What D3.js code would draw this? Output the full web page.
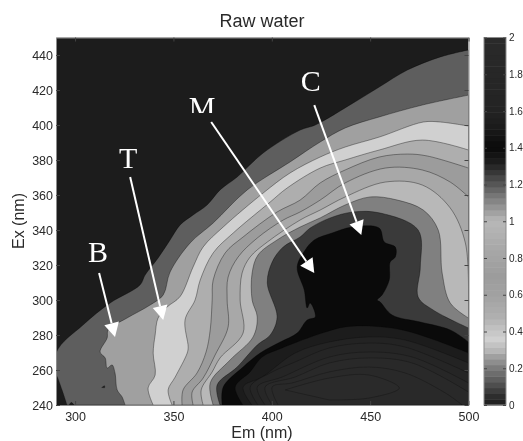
<!DOCTYPE html>
<html>
<head>
<meta charset="utf-8">
<script src="https://cdn.jsdelivr.net/npm/d3@7"></script>
<style>
  html, body { margin: 0; padding: 0; background: #fff; overflow: hidden; }
  svg { display: block; filter: blur(0.45px); }
  text { font-family: "Liberation Sans", Arial, sans-serif; fill: #2a2a2a; }
</style>
</head>
<body>
<div id="chart"></div>
<script>
// Contour outlines, as [Em, Ex] in nm
const contourA = [[290.3,240],[290.3,269.7],[304,285.7],[317.8,298.3],[333,308.6],[335.6,314.3],[342.2,324],[348.3,334.3],[353.4,342.9],[360,348.6],[367.1,354.3],[373.7,362.9],[382.4,370.3],[395.6,384],[414.4,397.1],[422.1,400],[441.4,412.6],[454.6,421.7],[468.9,431.4],[485.7,438.9],[500,442.9],[500,240]];
const contourB = [[325.4,240],[323.9,244.6],[321.4,248.6],[320.3,258.3],[318.8,262.9],[316.3,261.1],[315.3,266.9],[312.7,270.3],[316.3,278.3],[316.8,282.9],[326.4,289.7],[338.1,297.1],[344.8,302.9],[348.3,316],[358.5,332.6],[370.2,344],[387.5,362.9],[409.3,378.9],[424.6,390.3],[437.3,398.3],[454.6,404.6],[476.5,411.4],[500,417.1],[500,240]];
const contourC = [[339.7,240],[337.1,249.7],[340.7,257.1],[339.7,269.7],[340.7,280],[342.2,289.7],[346.8,296],[353.4,302],[360,318.9],[365.1,330.3],[375.3,341.7],[395.6,361.1],[409.3,372.6],[424.6,381.7],[437.3,387.4],[454.6,393.1],[477,401.7],[485.7,401.7],[500,399.4],[500,240]];
const contourD = [[349.3,240],[347.3,248.6],[350.9,256],[357,269.7],[357.5,273.1],[355.9,288.6],[361,300],[363.6,311.4],[370.2,326.9],[380.4,338.3],[399.2,356],[407.8,364],[424.6,375.4],[437.3,380],[454.6,385.7],[476.5,391.4],[500,385.7],[500,240]];
const contourE = [[354.4,240],[354.9,248.6],[362,258.3],[366.6,270.3],[368.7,282.9],[369.7,300],[370.2,311.4],[376.3,326.9],[385.4,336],[402.7,350.3],[414.4,357.1],[424.6,366.9],[437.3,374.3],[454.6,381.7],[468.9,383.4],[479,382.3],[500,375.4],[500,240]];
const contourF = [[360,240],[359.5,247.4],[365.1,255.4],[371.2,268.6],[377.8,284.6],[377.3,300],[377.8,313.1],[382.9,324.6],[392.6,335.4],[405.8,345.7],[414.4,350.3],[424.6,357.1],[437.3,366.9],[457.7,375.4],[476.5,374.3],[490.7,367.4],[500,358.9],[500,240]];
const contourG = [[365.1,240],[364.1,248.6],[369.7,258.9],[373.7,266.9],[385.4,281.1],[383.9,300],[384.9,315.4],[389,324.6],[397.7,333.1],[414.4,345.7],[424.6,351.4],[437.3,358.9],[457.7,367.4],[476.5,365.7],[490.7,352.6],[498.4,332.6],[500,305.7],[500,240]];
const contourH = [[370.2,240],[368.7,252.6],[378.8,265.7],[390.5,278.9],[392.6,290.3],[390,300],[390,315.4],[393,325.7],[402.7,334.3],[414.4,341.7],[424.6,346.9],[437.3,354.3],[450,358.9],[463.8,357.1],[477,351.4],[484.6,340],[486.6,315.4],[490.7,298.3],[500,289.7],[500,240]];
const contourI = [[373.7,240],[372.2,251.4],[382.4,261.7],[392.6,274.3],[399.2,280],[402.7,290.3],[397.7,309.7],[400.2,321.7],[405.8,330.3],[414.4,336],[419.5,341.1],[429.7,346.9],[441.4,350.3],[455.1,349.7],[474.4,340],[475.5,318.9],[474.4,301.7],[482,294.3],[500,284],[500,240]];
const contourJ = [[374.8,240],[375.3,250.3],[385.4,261.7],[394.1,269.7],[404.3,276],[412.9,281.1],[418,288.6],[422.1,290.3],[419.5,298.3],[418,295.4],[416.5,305.7],[412.9,318.9],[417,328.6],[421.6,334.3],[430.7,338.3],[440.9,341.7],[454.6,341.1],[457.2,333.1],[462.8,330.3],[462.8,324.6],[460.2,321.7],[459.7,311.4],[456.1,302.9],[453.6,300],[455.1,298.9],[461.2,291.4],[475.5,287.4],[490.7,282.9],[500,276],[500,240]];
const ring1 = [[385.4,240],[381.4,250.3],[389,258.9],[395.1,267.4],[405.3,272.6],[425.6,281.1],[437.3,284.6],[449.5,285.1],[466.3,282.9],[483,277.1],[500,269.7],[500,240]];
const ring2 = [[389.9,240],[385.4,250.3],[395.1,256],[411.9,269.7],[429.2,276],[449.5,278.9],[467.8,277.1],[500,264],[500,240]];
const ring3 = [[393,240],[389,250.3],[399.2,258.3],[411.9,264.6],[429.2,272.6],[449.5,275.4],[467.8,273.1],[500,258.3],[500,240]];
const ring4 = [[396.6,240],[392.6,250.3],[405.3,256],[429.2,267.4],[449.5,270.3],[471.4,267.4],[500,252.6],[500,240]];
const ring5 = [[400.2,240],[396.6,250.3],[411.9,256],[429.2,264],[449.5,266.9],[471.4,264],[500,247.4],[500,240]];
const ring6 = [[403.2,240],[400.2,250.3],[410.4,252.6],[429.2,258.9],[449.5,261.7],[467.8,258.3],[488.2,246.9],[496.8,240]];
const ring7 = [[406.8,248.6],[429.2,255.4],[449.5,257.1],[464.8,249.7],[449.5,244],[429.2,242.9]];
const lowCorner = [[290.3,240],[290.3,257],[293.4,248.6],[295.9,240]];
const lowSpeck1 = [[297,240],[298,241.5],[299.5,240]];
const lowSpeck2 = [[313.5,250],[315,251],[315,249.8]];

// Level of each filled contour, painted from the outside in
const contourLevels = [0.14, 0.265, 0.36, 0.49, 0.7, 0.85, 1.0, 1.12, 1.26, 1.4, 1.52, 1.6, 1.7, 1.8, 1.9, 1.95, 2.0, 0, 0, 0];
const contourShapes = [contourA, contourB, contourC, contourD, contourE, contourF, contourG, contourH, contourI, contourJ,
    ring1, ring2, ring3, ring4, ring5, ring6, ring7, lowCorner, lowSpeck1, lowSpeck2];

// Colormap stops
const cmapValues = [0, 0.05, 0.14, 0.2, 0.265, 0.3, 0.36, 0.42, 0.49, 0.6, 0.7, 0.85, 1.0, 1.12, 1.26, 1.32, 1.4, 1.52, 1.6, 1.8, 2];
const cmapGrays = ["#1c1c1c", "#2e2e2e", "#5e5e5e", "#7a7a7a", "#a0a0a0", "#b8b8b8", "#d0d0d0", "#c0c0c0", "#aeaeae", "#a2a2a2", "#9c9c9c", "#a8a8a8", "#b8b8b8", "#808080", "#3a3a3a", "#1e1e1e", "#0a0a0a", "#1c1c1c", "#232323", "#272727", "#2a2a2a"];

const emTicks = [300, 350, 400, 450, 500];
const exTicks = [240, 260, 280, 300, 320, 340, 360, 380, 400, 420, 440];
const barTicks = [0, 0.2, 0.4, 0.6, 0.8, 1, 1.2, 1.4, 1.6, 1.8, 2];

// Annotation labels and their arrows, also in [Em, Ex]
const noteNames = ["B", "T", "M", "C"];
const noteLabels = [[311.7,321.7],[327,375.4],[364.6,404.6],[419.8,419.4]];
const noteStarts = [[312.2,315.4],[328,370.3],[369.2,401.7],[421.6,411.4]];
const noteTips = [[320.3,278.9],[344.8,288.6],[421.6,315.4],[445.5,337.1]];

const width = 523;
const height = 441;
const plot = { left: 56, right: 468.5, top: 37.5, bottom: 405 };
const bar = { left: 484, right: 506 };

const x = d3.scaleLinear().domain([290.3, 500]).range([plot.left, plot.right]);
const y = d3.scaleLinear().domain([240, 450]).range([plot.bottom, plot.top]);
const barY = d3.scaleLinear().domain([0, 2]).range([plot.bottom, plot.top]);
const cmap = d3.scaleLinear().domain(cmapValues).range(cmapGrays);

const svg = d3.select("#chart").append("svg")
    .attr("width", width)
    .attr("height", height);

svg.append("clipPath").attr("id", "plot-clip").append("rect")
    .attr("x", plot.left).attr("y", plot.top)
    .attr("width", plot.right - plot.left).attr("height", plot.bottom - plot.top);

// Filled contours
const g = svg.append("g").attr("clip-path", "url(#plot-clip)");
g.append("rect")
    .attr("x", plot.left).attr("y", plot.top)
    .attr("width", plot.right - plot.left).attr("height", plot.bottom - plot.top)
    .attr("fill", cmap(0));

// Smooth along the curve, then straight back round the plot corner
const line = d3.line().x(d => x(d[0])).y(d => y(d[1])).curve(d3.curveCatmullRom.alpha(0.5));
function contourPath(pts) {
    const last = pts[pts.length - 1];
    if (last[0] === 500 && last[1] === 240) {
        return line(pts.slice(0, -1)) + `L${x(500)},${y(240)}Z`;
    }
    return line(pts) + "Z";
}

g.selectAll("path")
    .data(contourShapes)
    .enter().append("path")
    .attr("d", contourPath)
    .attr("fill", (d, i) => cmap(contourLevels[i]))
    .attr("stroke", "#000")
    .attr("stroke-opacity", (d, i) => i >= 10 ? 0.22 : 0.36)
    .attr("stroke-width", 1);

// Axes, ticks pointing in like the original
function styleAxis(sel) {
    sel.selectAll("path").attr("stroke", "#8c8c8c");
    sel.selectAll("line").attr("stroke", "#444");
    sel.selectAll("text").style("font-size", "12.5px");
}
svg.append("g").attr("transform", `translate(0,${plot.bottom})`)
    .call(d3.axisBottom(x).tickValues(emTicks).tickFormat(d3.format("d")).tickSizeInner(-4).tickSizeOuter(0).tickPadding(7))
    .call(styleAxis);
svg.append("g").attr("transform", `translate(${plot.left},0)`)
    .call(d3.axisLeft(y).tickValues(exTicks).tickFormat(d3.format("d")).tickSizeInner(-4).tickSizeOuter(0).tickPadding(3))
    .call(styleAxis);
svg.append("g").attr("transform", `translate(${plot.right},0)`)
    .call(d3.axisRight(y).tickValues(exTicks).tickFormat("").tickSizeInner(-4).tickSizeOuter(0))
    .call(styleAxis);
svg.append("g").attr("transform", `translate(0,${plot.top})`)
    .call(d3.axisTop(x).tickValues(emTicks).tickFormat("").tickSizeInner(-4).tickSizeOuter(0))
    .call(styleAxis);

// Titles
svg.append("text").attr("x", 262).attr("y", 27).attr("text-anchor", "middle")
    .style("font-size", "18px").text("Raw water");
svg.append("text").attr("x", 262).attr("y", 438).attr("text-anchor", "middle")
    .style("font-size", "16px").text("Em (nm)");
svg.append("text").attr("transform", "translate(24,221) rotate(-90)").attr("text-anchor", "middle")
    .style("font-size", "16px").text("Ex (nm)");

// Colorbar
const barSteps = d3.range(64).map(i => (i + 0.5) / 64 * 2);
svg.append("g").selectAll("rect")
    .data(barSteps)
    .enter().append("rect")
    .attr("x", bar.left)
    .attr("width", bar.right - bar.left)
    .attr("y", d => barY(d + 1 / 64))
    .attr("height", barY(0) - barY(1 / 32) + 0.5)
    .attr("fill", d => cmap(d));
svg.append("rect")
    .attr("x", bar.left).attr("y", plot.top)
    .attr("width", bar.right - bar.left).attr("height", plot.bottom - plot.top)
    .attr("fill", "none").attr("stroke", "#8c8c8c");
svg.append("g").attr("transform", `translate(${bar.right},0)`)
    .call(d3.axisRight(barY).tickValues(barTicks).tickFormat(d => d).tickSizeInner(-3).tickSizeOuter(0).tickPadding(3))
    .call(styleAxis)
    .call(a => a.selectAll("text").style("font-size", "10px"))
    .call(a => a.select("path").remove());
svg.append("g").attr("transform", `translate(${bar.left},0)`)
    .call(d3.axisLeft(barY).tickValues(barTicks).tickFormat("").tickSizeInner(-3).tickSizeOuter(0))
    .call(styleAxis)
    .call(a => a.select("path").remove());

// White annotations; the M is cut off at the bottom in the original
svg.append("clipPath").attr("id", "m-clip").append("rect")
    .attr("x", 0).attr("y", 0).attr("width", width).attr("height", y(noteLabels[2][1]) - 4);

noteNames.forEach((name, i) => {
    const [sx, sy] = [x(noteStarts[i][0]), y(noteStarts[i][1])];
    const [tx, ty] = [x(noteTips[i][0]), y(noteTips[i][1])];
    const a = Math.atan2(ty - sy, tx - sx);
    const len = 14, half = 7.5;
    const bx = tx - len * Math.cos(a), by = ty - len * Math.sin(a);

    svg.append("line")
        .attr("x1", sx).attr("y1", sy).attr("x2", bx).attr("y2", by)
        .attr("stroke", "#fff").attr("stroke-width", 2);
    svg.append("path")
        .attr("d", d3.line()([
            [tx, ty],
            [bx - half * Math.sin(a), by + half * Math.cos(a)],
            [bx + half * Math.sin(a), by - half * Math.cos(a)]
        ]) + "Z")
        .attr("fill", "#fff");
    svg.append("text")
        .attr("x", x(noteLabels[i][0]))
        .attr("y", y(noteLabels[i][1]))
        .attr("text-anchor", "middle")
        .attr("clip-path", name === "M" ? "url(#m-clip)" : null)
        .style("font-family", '"Liberation Serif", "Times New Roman", serif')
        .style("font-size", "30px")
        .style("fill", "#fff")
        .text(name);
});
</script>
</body>
</html>
